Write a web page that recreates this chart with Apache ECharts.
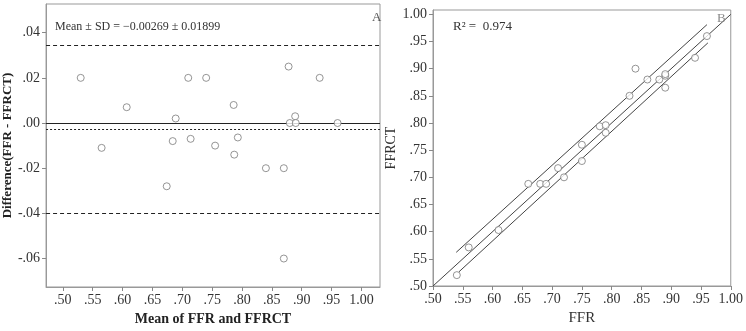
<!DOCTYPE html>
<html>
<head>
<meta charset="utf-8">
<script src="https://cdn.jsdelivr.net/npm/echarts@6/dist/echarts.min.js"></script>
<style>
  html, body { margin: 0; padding: 0; background: #fff; }
  #chart { width: 746px; height: 331px; }
</style>
</head>
<body>
<div id="chart"></div>
<script>
// Panel A: Bland-Altman (mean of FFR and FFRCT vs difference)
const baMean = [0.530, 0.565, 0.607, 0.674, 0.684, 0.689, 0.710, 0.714, 0.740, 0.755,
  0.786, 0.787, 0.793, 0.840, 0.870, 0.870, 0.878, 0.880, 0.889, 0.890, 0.930, 0.960];
const baDiff = [0.020, -0.011, 0.007, -0.028, -0.008, 0.002, 0.020, -0.007, 0.020, -0.010,
  0.008, -0.014, -0.0064, -0.020, -0.020, -0.060, 0.025, 0.000, 0.003, 0.000, 0.020, 0.000];
const meanDiff = -0.00269;
const limitsOfAgreement = [0.0345, -0.0399];
const baXTicks = [0.50, 0.55, 0.60, 0.65, 0.70, 0.75, 0.80, 0.85, 0.90, 0.95, 1.00];
const baYTicks = [-0.06, -0.04, -0.02, 0.00, 0.02, 0.04];

// Panel B: FFR vs FFRCT
const ffr = [0.54, 0.56, 0.61, 0.66, 0.68, 0.69, 0.72, 0.71, 0.75, 0.75,
  0.79, 0.78, 0.79, 0.83, 0.86, 0.84, 0.89, 0.88, 0.89, 0.89, 0.94, 0.96];
const ffrct = [0.520, 0.571, 0.603, 0.688, 0.688, 0.688, 0.700, 0.717, 0.730, 0.760,
  0.782, 0.794, 0.796, 0.850, 0.880, 0.900, 0.865, 0.880, 0.887, 0.890, 0.920, 0.960];
const identityLine = [[0.50, 0.50], [1.00, 1.00]];
const upperBand = [[0.539, 0.562], [0.960, 0.981]];
const lowerBand = [[0.5435, 0.526], [0.9616, 0.9475]];
const fitTicks = [0.50, 0.55, 0.60, 0.65, 0.70, 0.75, 0.80, 0.85, 0.90, 0.95, 1.00];

const serif = 'Liberation Serif';
const fmt = v => (v < 0 ? '-' : '') + Math.abs(v).toFixed(2).replace(/^0/, '');

const axisCommon = (ticks) => ({
  type: 'value',
  axisLine: { show: true, onZero: false, lineStyle: { color: '#999' } },
  axisTick: { show: true, length: 4, customValues: ticks, lineStyle: { color: '#888' } },
  axisLabel: {
    customValues: ticks, formatter: fmt,
    color: '#333', fontFamily: serif, fontSize: 14, margin: 6
  },
  splitLine: { show: false }
});

const pointStyle = { color: '#fff', borderColor: '#7a7a7a', borderWidth: 1 };

const chart = echarts.init(document.getElementById('chart'), null, { renderer: 'canvas' });

chart.setOption({
  animation: false,
  backgroundColor: '#fff',
  title: [
    {
      text: 'Mean \u00b1 SD = \u22120.00269 \u00b1 0.01899', left: 50, top: 16,
      textStyle: { fontFamily: serif, fontSize: 12, fontWeight: 'normal', color: '#333' }
    },
    {
      text: 'A', left: 367, top: 6,
      textStyle: { fontFamily: serif, fontSize: 13, fontWeight: 'normal', color: '#555' }
    },
    {
      text: 'R\u00b2 =  0.974', left: 448, top: 15,
      textStyle: { fontFamily: serif, fontSize: 13, fontWeight: 'normal', color: '#333' }
    },
    {
      text: 'B', left: 712, top: 7,
      textStyle: { fontFamily: serif, fontSize: 13, fontWeight: 'normal', color: '#888' }
    }
  ],
  grid: [
    { left: 43, top: 4, width: 337, height: 286, show: true, borderColor: '#999', borderWidth: 1 },
    { left: 433, top: 10, width: 304, height: 281, show: true, borderColor: '#999', borderWidth: 1 }
  ],
  xAxis: [
    Object.assign(axisCommon(baXTicks), {
      gridIndex: 0, min: 0.472, max: 1.031,
      name: 'Mean of FFR and FFRCT', nameLocation: 'middle', nameGap: 25,
      nameTextStyle: { fontFamily: serif, fontSize: 14, fontWeight: 'bold', color: '#222' }
    }),
    Object.assign(axisCommon(fitTicks), {
      gridIndex: 1, min: 0.5, max: 1.0,
      name: 'FFR', nameLocation: 'middle', nameGap: 25,
      nameTextStyle: { fontFamily: serif, fontSize: 15, color: '#333' }
    })
  ],
  yAxis: [
    Object.assign(axisCommon(baYTicks), {
      gridIndex: 0, min: -0.0726, max: 0.0527,
      name: 'Difference(FFR - FFRCT)', nameLocation: 'middle', nameGap: 29,
      nameTextStyle: { fontFamily: serif, fontSize: 13, fontWeight: 'bold', color: '#222' }
    }),
    Object.assign(axisCommon(fitTicks), {
      gridIndex: 1, min: 0.5, max: 1.008,
      name: 'FFRCT', nameLocation: 'middle', nameGap: 34,
      nameTextStyle: { fontFamily: serif, fontSize: 14, color: '#333' }
    })
  ],
  series: [
    {
      type: 'scatter', xAxisIndex: 0, yAxisIndex: 0, z: 5,
      data: baMean.map((m, i) => [m, baDiff[i]]),
      symbol: 'circle', symbolSize: 7,
      itemStyle: pointStyle,
      markLine: {
        silent: true, symbol: 'none', label: { show: false }, precision: 6,
        data: [
          { yAxis: 0, lineStyle: { type: 'solid', color: '#222', width: 1.2 } },
          { yAxis: meanDiff, lineStyle: { type: [2, 2], color: '#222', width: 1 } },
          { yAxis: limitsOfAgreement[0], lineStyle: { type: [4, 3], color: '#222', width: 1.2 } },
          { yAxis: limitsOfAgreement[1], lineStyle: { type: [4, 3], color: '#222', width: 1.2 } }
        ]
      }
    },
    ...[identityLine, upperBand, lowerBand].map(d => ({
      type: 'line', xAxisIndex: 1, yAxisIndex: 1, data: d,
      showSymbol: false, silent: true,
      lineStyle: { color: '#444', width: 1 }
    })),
    {
      type: 'scatter', xAxisIndex: 1, yAxisIndex: 1, z: 5,
      data: ffr.map((x, i) => [x, ffrct[i]]),
      symbol: 'circle', symbolSize: 7,
      itemStyle: pointStyle
    }
  ]
});
</script>
</body>
</html>
